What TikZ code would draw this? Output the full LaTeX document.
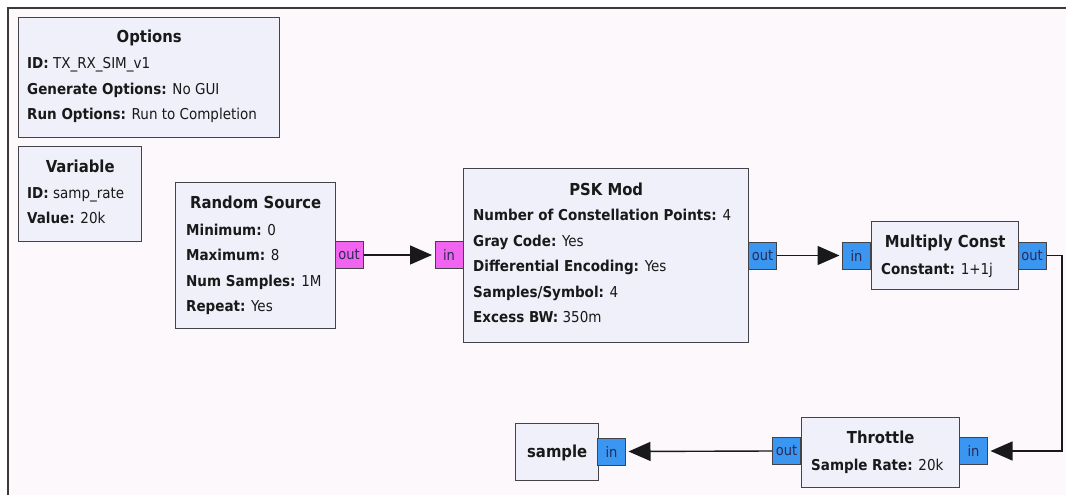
\documentclass[tikz,border=0pt]{standalone}
\usepackage{fontspec}
\setmainfont{DejaVu Sans Condensed}
\usetikzlibrary{arrows.meta}

\definecolor{canvas}{HTML}{FCF8FC}
\definecolor{frameline}{HTML}{3A3A3A}
\definecolor{blockfill}{HTML}{EFF0FA}
\definecolor{blockline}{HTML}{444448}
\definecolor{portmag}{HTML}{F064F0}
\definecolor{portblue}{HTML}{3A96F0}
\definecolor{porttext}{HTML}{2A2A55}

\tikzset{
  block/.style={draw=blockline, fill=blockfill, line width=1.4pt, inner sep=0pt, anchor=north west},
  ttl/.style={anchor=base, inner sep=0pt, font=\fontsize{16.5}{19}\selectfont\bfseries, text=black!90},
  par/.style={anchor=base west, inner sep=0pt, font=\fontsize{15}{18}\selectfont, text=black!90},
  port/.style={draw=blockline, line width=1pt, minimum width=28pt, minimum height=27pt, inner sep=0pt,
               font=\fontsize{14.5}{14.5}\selectfont, text=porttext},
  magport/.style={port, fill=portmag},
  blueport/.style={port, fill=portblue},
  conn/.style={draw=black!90, line width=1.4pt, -{Triangle[length=22pt,width=19pt]}, shorten >=2.5pt},
}

\begin{document}
\begin{tikzpicture}[x=1pt, y=-1pt]
  \useasboundingbox (0,0) rectangle (1066,495);
  % canvas and its top/left frame
  \fill[white] (0,0) rectangle (1066,495);
  \fill[canvas] (8,8) rectangle (1066,495);
  \draw[frameline, line width=2pt] (8,495) -- (8,8) -- (1066,8);

  % Options
  \node[block, minimum width=261pt, minimum height=120pt] (opt) at (18,17) {};
  \node[ttl] (opt-t) at ([yshift=-26pt]opt.north) {Options};
  \node[par] (opt-1) at ([xshift=9pt,yshift=-52pt]opt.north west) {\textbf{ID:} TX\_RX\_SIM\_v1};
  \node[par] (opt-2) at ([xshift=9pt,yshift=-77.3pt]opt.north west) {\textbf{Generate Options:} No GUI};
  \node[par] (opt-3) at ([xshift=9pt,yshift=-102.6pt]opt.north west) {\textbf{Run Options:} Run to Completion};

  % Variable
  \node[block, minimum width=123pt, minimum height=95pt] (var) at (18,146) {};
  \node[ttl] (var-t) at ([yshift=-26pt]var.north) {Variable};
  \node[par] (var-1) at ([xshift=9pt,yshift=-52pt]var.north west) {\textbf{ID:} samp\_rate};
  \node[par] (var-2) at ([xshift=9pt,yshift=-77.3pt]var.north west) {\textbf{Value:} 20k};

  % Random Source
  \node[block, minimum width=160pt, minimum height=146pt] (rs) at (175,182) {};
  \node[ttl] (rs-t) at ([yshift=-26.5pt]rs.north) {Random Source};
  \node[par] (rs-1) at ([xshift=11pt,yshift=-53pt]rs.north west) {\textbf{Minimum:} 0};
  \node[par] (rs-2) at ([xshift=11pt,yshift=-78.5pt]rs.north west) {\textbf{Maximum:} 8};
  \node[par] (rs-3) at ([xshift=11pt,yshift=-104pt]rs.north west) {\textbf{Num Samples:} 1M};
  \node[par] (rs-4) at ([xshift=11pt,yshift=-129.5pt]rs.north west) {\textbf{Repeat:} Yes};
  \node[magport] (rs-out) at (349,255) {out};

  % PSK Mod
  \node[block, minimum width=285pt, minimum height=174pt] (psk) at (463,168) {};
  \node[ttl] (psk-t) at ([yshift=-27pt]psk.north) {PSK Mod};
  \node[par] (psk-1) at ([xshift=10pt,yshift=-52.5pt]psk.north west) {\textbf{Number of Constellation Points:} 4};
  \node[par] (psk-2) at ([xshift=10pt,yshift=-78pt]psk.north west) {\textbf{Gray Code:} Yes};
  \node[par] (psk-3) at ([xshift=10pt,yshift=-103.5pt]psk.north west) {\textbf{Differential Encoding:} Yes};
  \node[par] (psk-4) at ([xshift=10pt,yshift=-129pt]psk.north west) {\textbf{Samples/Symbol:} 4};
  \node[par] (psk-5) at ([xshift=10pt,yshift=-154.5pt]psk.north west) {\textbf{Excess BW:} 350m};
  \node[magport] (psk-in) at (449,255) {in};
  \node[blueport] (psk-out) at (762.5,255.5) {out};

  % Multiply Const
  \node[block, minimum width=147pt, minimum height=68pt] (mc) at (871,221) {};
  \node[ttl] (mc-t) at ([yshift=-26pt]mc.north) {Multiply Const};
  \node[par] (mc-1) at ([xshift=10pt,yshift=-53pt]mc.north west) {\textbf{Constant:} 1+1j};
  \node[blueport] (mc-in) at (856.5,255.5) {in};
  \node[blueport] (mc-out) at (1032,255.5) {out};

  % Throttle
  \node[block, minimum width=158pt, minimum height=70pt] (thr) at (801,417) {};
  \node[ttl] (thr-t) at ([yshift=-26pt]thr.north) {Throttle};
  \node[par] (thr-1) at ([xshift=10pt,yshift=-53pt]thr.north west) {\textbf{Sample Rate:} 20k};
  \node[blueport] (thr-in) at (973.5,451) {in};
  \node[blueport] (thr-out) at (786.5,451) {out};

  % sample sink
  \node[block, minimum width=83pt, minimum height=57pt] (smp) at (515,423) {};
  \node[ttl] (smp-t) at ([yshift=-5.5pt]smp.center) {sample};
  \node[blueport] (smp-in) at (611.5,451.5) {in};

  % connections
  \coordinate (turn) at (1062,451);
  \draw[conn] (rs-out.east) -- (psk-in.west);
  \draw[conn] (psk-out.east) -- (mc-in.west);
  \draw[conn] (mc-out.east) -| (turn) -- (thr-in.east);
  \draw[conn] (thr-out.west) -- (smp-in.east);
\end{tikzpicture}
\end{document}
